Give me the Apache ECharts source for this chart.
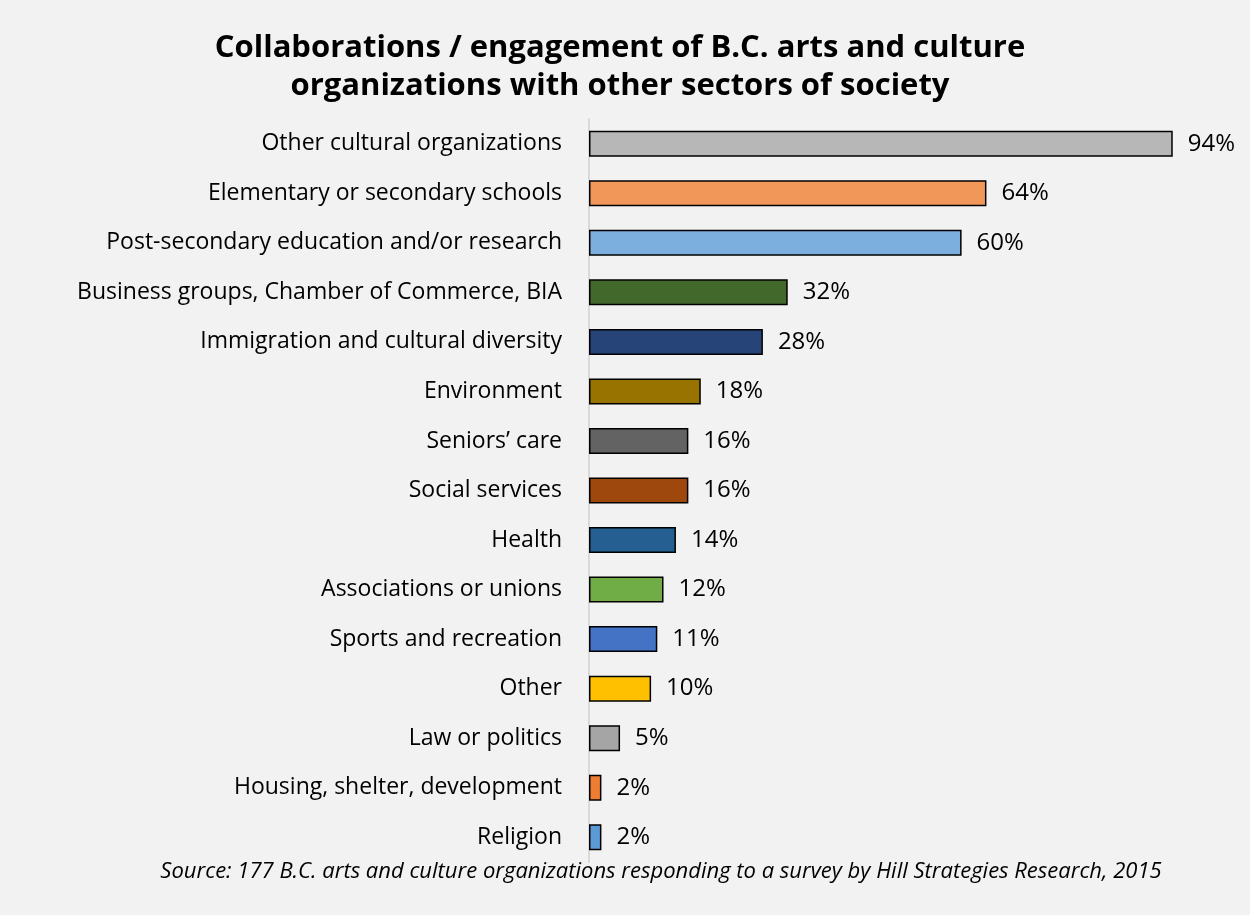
<!DOCTYPE html>
<html>
<head>
<meta charset="utf-8">
<script src="https://cdn.jsdelivr.net/npm/echarts@6/dist/echarts.min.js"></script>
<style>
  html, body { margin: 0; padding: 0; background: #f2f2f2; }
  #chart { width: 1250px; height: 915px; }
</style>
</head>
<body>
<div id="chart"></div>
<script>
// categories top to bottom
const categories = [
  'Other cultural organizations',
  'Elementary or secondary schools',
  'Post-secondary education and/or research',
  'Business groups, Chamber of Commerce, BIA',
  'Immigration and cultural diversity',
  'Environment',
  'Seniors\u2019 care',
  'Social services',
  'Health',
  'Associations or unions',
  'Sports and recreation',
  'Other',
  'Law or politics',
  'Housing, shelter, development',
  'Religion'
]
const values = [94, 64, 60, 32, 28, 18, 16, 16, 14, 12, 11, 10, 5, 2, 2]
const barColors = [
  '#b7b7b7', '#f1975a', '#7cafdd', '#43682b', '#264478', '#997300', '#636363',
  '#9e480e', '#255e91', '#70ad47', '#4472c4', '#ffc000', '#a5a5a5', '#ed7d31', '#5b9bd5'
]

const font = '"Open Sans", Lato, sans-serif'
const chart = echarts.init(document.getElementById('chart'))
chart.setOption({
  backgroundColor: '#f2f2f2',
  animation: false,
  title: [
    {
      text: 'Collaborations / engagement of B.C. arts and culture\norganizations with other sectors of society',
      left: 615,
      top: 24,
      textAlign: 'center',
      textStyle: {
        fontFamily: font,
        fontWeight: 'bold',
        fontSize: 31,
        lineHeight: 38,
        color: '#000'
      }
    },
    {
      text: 'Source: 177 B.C. arts and culture organizations responding to a survey by Hill Strategies Research, 2015',
      left: 656,
      top: 856,
      textAlign: 'center',
      textStyle: {
        fontFamily: font,
        fontStyle: 'italic',
        fontWeight: 'normal',
        fontSize: 22,
        color: '#000'
      }
    }
  ],
  grid: {
    left: 589,
    right: 40,
    top: 119,
    bottom: 53,
    containLabel: false
  },
  xAxis: {
    type: 'value',
    min: 0,
    max: 100,
    show: false
  },
  yAxis: {
    type: 'category',
    inverse: true,
    data: categories,
    axisLine: { show: true, lineStyle: { color: '#d9d9d9', width: 2 } },
    axisTick: { show: false },
    axisLabel: {
      margin: 27,
      fontFamily: font,
      fontSize: 23,
      color: '#000'
    }
  },
  series: [
    {
      type: 'bar',
      barWidth: 26,
      data: values.map((v, i) => ({
        value: v,
        itemStyle: { color: barColors[i] }
      })),
      itemStyle: { borderColor: '#000', borderWidth: 1.5 },
      label: {
        show: true,
        position: 'right',
        distance: 15,
        formatter: '{c}%',
        fontFamily: font,
        fontSize: 24,
        color: '#000'
      }
    }
  ]
})
</script>
</body>
</html>
